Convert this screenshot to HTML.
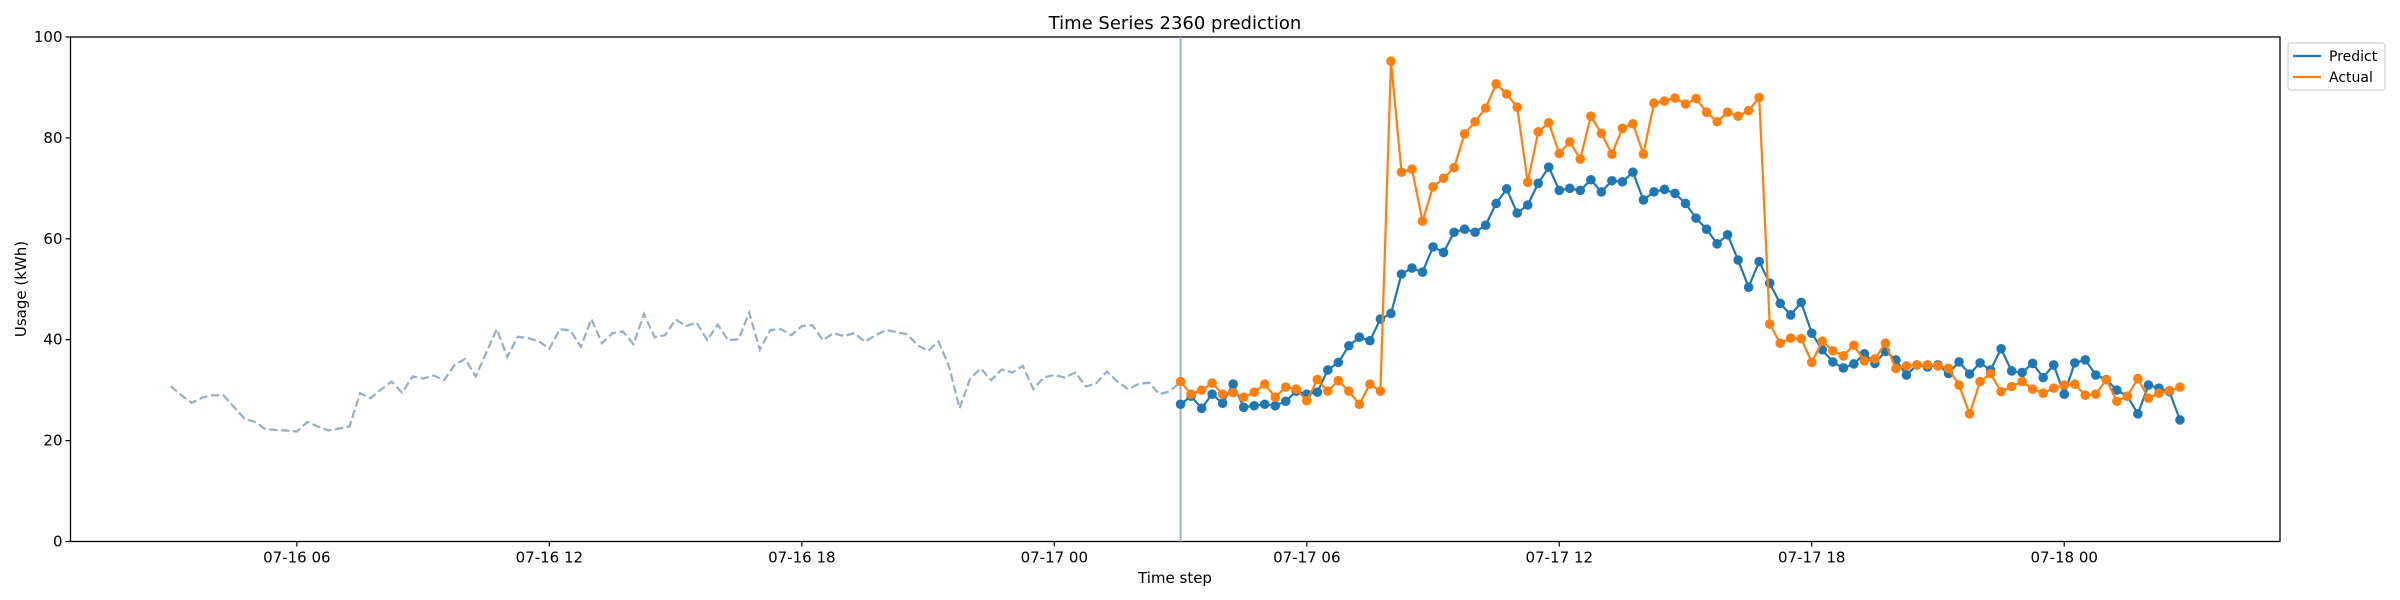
<!DOCTYPE html>
<html><head><meta charset="utf-8"><title>Time Series 2360 prediction</title>
<style>html,body{margin:0;padding:0;background:#fff;}svg{display:block;font-family:"DejaVu Sans","Liberation Sans",sans-serif;}</style>
</head><body>
<svg id="chart" width="2400" height="600" viewBox="0 0 2400 600" xmlns="http://www.w3.org/2000/svg">
<rect x="0" y="0" width="2400" height="600" fill="#fff"/>
<text x="1175" y="29" font-size="18" text-anchor="middle" fill="#000">Time Series 2360 prediction</text>
<g id="plot"></g>
<text x="1175" y="583" font-size="15" text-anchor="middle" fill="#000">Time step</text>
<text x="26" y="289" font-size="15" text-anchor="middle" fill="#000" transform="rotate(-90 26 289)">Usage (kWh)</text>
<g>
<rect x="2288" y="43" width="97" height="47" rx="3" fill="#fff" stroke="#d0d0d0" stroke-width="1.2"/>
<line x1="2293" y1="56" x2="2321" y2="56" stroke="#1f77b4" stroke-width="2.2"/>
<text x="2329" y="61" font-size="14" fill="#000">Predict</text>
<line x1="2293" y1="77" x2="2321" y2="77" stroke="#ff7f0e" stroke-width="2.2"/>
<text x="2329" y="82" font-size="14" fill="#000">Actual</text>
</g>
</svg>
<script>
const historyStartHour = 3;
const forecastStartHour = 27;
const stepHours = 0.25;
const history = [30.8,29.0,27.5,28.5,29.0,29.0,26.7,24.4,23.7,22.3,22.1,22.0,21.8,23.7,22.8,22.0,22.4,22.8,29.4,28.4,30.1,31.7,29.5,32.7,32.3,32.9,32.0,35.0,36.2,32.7,37.4,42.1,36.6,40.6,40.3,39.7,38.2,42.1,41.8,38.6,44.1,39.3,41.3,41.6,39.1,45.1,40.5,40.9,44.0,42.7,43.4,39.9,43.0,39.9,40.1,45.4,38.0,41.9,42.1,40.9,42.7,42.9,39.9,41.3,40.7,41.3,39.6,40.9,41.9,41.5,41.1,38.9,37.8,39.6,34.6,26.4,32.3,34.3,32.0,34.1,33.5,34.8,30.2,32.5,33.0,32.5,33.5,30.7,31.4,33.7,31.7,30.2,31.2,31.5,29.2,29.8];
const predict = [27.2,28.8,26.4,29.2,27.4,31.2,26.6,26.9,27.2,26.9,27.8,29.8,29.2,29.6,34.0,35.5,38.8,40.5,39.8,44.1,45.2,53.0,54.2,53.4,58.4,57.3,61.3,61.9,61.3,62.7,67.0,69.9,65.1,66.7,71.0,74.2,69.6,70.0,69.6,71.7,69.3,71.5,71.3,73.2,67.7,69.3,69.8,69.0,67.0,64.1,61.9,59.0,60.8,55.8,50.4,55.5,51.2,47.2,44.9,47.4,41.3,38.0,35.6,34.4,35.2,37.2,35.3,37.7,36.0,33.0,35.0,34.6,35.0,33.3,35.6,33.2,35.4,34.0,38.2,33.8,33.5,35.3,32.5,35.0,29.2,35.4,36.0,33.0,32.1,30.0,28.8,25.3,31.0,30.4,29.7,24.1];
const actual = [31.7,29.2,30.0,31.4,29.2,29.5,28.6,29.6,31.2,28.6,30.6,30.2,27.9,32.1,29.8,31.9,29.8,27.2,31.2,29.8,95.2,73.2,73.8,63.5,70.3,72.0,74.1,80.8,83.2,85.9,90.7,88.7,86.1,71.2,81.2,83.0,76.9,79.2,75.8,84.3,80.9,76.8,81.9,82.8,76.8,86.9,87.3,87.9,86.7,87.8,85.1,83.2,85.1,84.3,85.4,88.0,43.1,39.3,40.3,40.2,35.5,39.7,37.8,36.8,38.9,35.8,36.2,39.3,34.3,34.8,35.0,35.0,34.8,34.3,31.0,25.3,31.7,33.3,29.7,30.7,31.7,30.2,29.4,30.4,31.0,31.2,29.0,29.2,32.1,27.8,28.8,32.3,28.4,29.4,29.9,30.6];
const yTicks = [0,20,40,60,80,100];
const xTickHours = [6,12,18,24,30,36,42,48];
const xTickLabels = ["07-16 06","07-16 12","07-16 18","07-17 00","07-17 06","07-17 12","07-17 18","07-18 00"];

const L=70.5,R=2280,T=37,B=541.5;
const hMin=(L-44.4)/42.08, hMax=(R-44.4)/42.08;
function xs(h){return L+(h-hMin)/(hMax-hMin)*(R-L);}
function ys(v){return B-(v-0)/(100-0)*(B-T);}
const NS="http://www.w3.org/2000/svg";
const plot=document.getElementById('plot');
function mk(tag,attrs,parent){const e=document.createElementNS(NS,tag);for(const k in attrs)e.setAttribute(k,attrs[k]);(parent||plot).appendChild(e);return e;}

const frame=mk('rect',{x:L,y:T,width:R-L,height:B-T,fill:'none',stroke:'#000','stroke-width':1.3});



yTicks.forEach(v=>{
  const y=ys(v);
  const t=mk('line',{x1:L-5,y1:y,x2:L,y2:y,stroke:'#000','stroke-width':1.2});
  
  
  const lb=mk('text',{x:L-8,y:y+5,'font-size':15,'text-anchor':'end',fill:'#000'});
  lb.textContent=String(v);
  
  
});
xTickHours.forEach((h,i)=>{
  const x=xs(h);
  const t=mk('line',{x1:x,y1:B,x2:x,y2:B+5,stroke:'#000','stroke-width':1.2});
  
  
  const lb=mk('text',{x:x,y:B+21,'font-size':15,'text-anchor':'middle',fill:'#000'});
  lb.textContent=xTickLabels[i];
  
  
});

let hp=history.map((v,i)=>xs(historyStartHour+i*stepHours).toFixed(1)+','+ys(v).toFixed(1));
hp.push(xs(forecastStartHour).toFixed(1)+','+ys(actual[0]).toFixed(1));
const hl=mk('polyline',{points:hp.join(' '),fill:'none',stroke:'#94aecb','stroke-width':2.2,'stroke-dasharray':'8.3,3.6'});



const vl=mk('line',{x1:xs(forecastStartHour),y1:T,x2:xs(forecastStartHour),y2:B,stroke:'#a3aed0','stroke-width':2});



function series(arr,color,name){
  const g=mk('g',{});
  
  
  const pts=arr.map((v,i)=>xs(forecastStartHour+i*stepHours).toFixed(1)+','+ys(v).toFixed(1)).join(' ');
  const pl=mk('polyline',{points:pts,fill:'none',stroke:color,'stroke-width':2.2},g);
  
  
  arr.forEach((v,i)=>{
    const c=mk('circle',{cx:xs(forecastStartHour+i*stepHours),cy:ys(v),r:4.8,fill:color},g);
    
    
  });
}
series(predict,'#1f77b4','predict');
series(actual,'#ff7f0e','actual');
</script>
</body></html>
